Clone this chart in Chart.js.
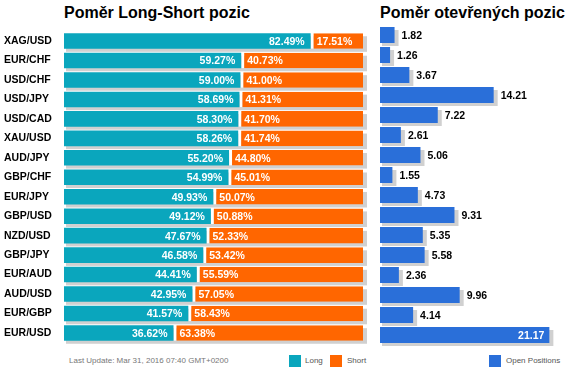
<!DOCTYPE html>
<html>
<head>
<meta charset="utf-8">
<script src="https://cdn.jsdelivr.net/npm/chart.js@4/dist/chart.umd.min.js"></script>
<style>
  body { margin: 0; background: #fff; width: 570px; height: 373px; position: relative; overflow: hidden; font-family: Arial, "Liberation Sans", sans-serif; }
  canvas { position: absolute; }
  .title { position: absolute; top: 5px; font-weight: bold; font-size: 16px; line-height: 16px; color: #000; white-space: nowrap; }
  .foot { position: absolute; font-size: 8px; line-height: 10px; color: #555; white-space: nowrap; }
  .sq { position: absolute; width: 12px; height: 12px; }
</style>
</head>
<body>
<div class="title" style="left:64px">Poměr Long-Short pozic</div>
<div class="title" style="left:380px">Poměr otevřených pozic</div>

<canvas id="ratioChart" width="372" height="324" style="left:0;top:25px"></canvas>
<canvas id="openChart" width="190" height="324" style="left:380px;top:25px"></canvas>

<div class="foot" style="left:69px;top:356px;color:#777">Last Update: Mar 31, 2016 07:40 GMT+0200</div>
<div class="sq" style="left:289px;top:355px;background:#0aa6bd"></div>
<div class="foot" style="left:305px;top:356px">Long</div>
<div class="sq" style="left:330px;top:355px;background:#ff6600"></div>
<div class="foot" style="left:347px;top:356px">Short</div>
<div class="sq" style="left:489px;top:355px;background:#2a6fd9"></div>
<div class="foot" style="left:506px;top:356px">Open Positions</div>

<script>
// menove pary
var pairs = ['XAG/USD', 'EUR/CHF', 'USD/CHF', 'USD/JPY', 'USD/CAD', 'XAU/USD', 'AUD/JPY', 'GBP/CHF',
             'EUR/JPY', 'GBP/USD', 'NZD/USD', 'GBP/JPY', 'EUR/AUD', 'AUD/USD', 'EUR/GBP', 'EUR/USD'];
var longPct  = [82.49, 59.27, 59.00, 58.69, 58.30, 58.26, 55.20, 54.99, 49.93, 49.12, 47.67, 46.58, 44.41, 42.95, 41.57, 36.62];
var shortPct = [17.51, 40.73, 41.00, 41.31, 41.70, 41.74, 44.80, 45.01, 50.07, 50.88, 52.33, 53.42, 55.59, 57.05, 58.43, 63.38];
var openPos  = [1.82, 1.26, 3.67, 14.21, 7.22, 2.61, 5.06, 1.55, 4.73, 9.31, 5.35, 5.58, 2.36, 9.96, 4.14, 21.17];

var TEAL = '#0aa6bd';
var ORANGE = '#ff6600';
var BLUE = '#2a6fd9';
var SHADOW = '#d0d0d0';
var LABEL_FONT = 'bold 10.5px Arial, "Liberation Sans", sans-serif';

// sedy stin za kazdym radkem
var shadowPlugin = {
    id: 'shadow',
    beforeDatasetsDraw: function (chart) {
        var ctx = chart.ctx;
        var first = chart.getDatasetMeta(0).data;
        var last = chart.getDatasetMeta(chart.data.datasets.length - 1).data;
        ctx.save();
        ctx.fillStyle = SHADOW;
        for (var i = 0; i < first.length; i++) {
            var a = first[i], b = last[i];
            var h = a.height;
            ctx.fillRect(a.base + 2, a.y - h / 2 + 3, b.x - a.base + 2, h);
        }
        ctx.restore();
    }
};

var ratioLabels = {
    id: 'ratioLabels',
    afterDatasetsDraw: function (chart) {
        var ctx = chart.ctx;
        var lm = chart.getDatasetMeta(0).data;
        var sm = chart.getDatasetMeta(1).data;
        ctx.save();
        ctx.font = LABEL_FONT;
        ctx.fillStyle = '#fff';
        ctx.textBaseline = 'middle';
        for (var i = 0; i < lm.length; i++) {
            ctx.textAlign = 'right';
            ctx.fillText(longPct[i].toFixed(2) + '%', lm[i].x - 6, lm[i].y + 1);
            ctx.textAlign = 'left';
            ctx.fillText(shortPct[i].toFixed(2) + '%', sm[i].base + 6, sm[i].y + 1);
        }
        ctx.restore();
    }
};

var openLabels = {
    id: 'openLabels',
    afterDatasetsDraw: function (chart) {
        var ctx = chart.ctx;
        var meta = chart.getDatasetMeta(0).data;
        ctx.save();
        ctx.font = LABEL_FONT;
        ctx.textBaseline = 'middle';
        for (var i = 0; i < meta.length; i++) {
            var txt = openPos[i].toFixed(2);
            var w = ctx.measureText(txt).width;
            if (meta[i].x + 7 + w > chart.width) {
                ctx.fillStyle = '#fff';
                ctx.textAlign = 'right';
                ctx.fillText(txt, meta[i].x - 5, meta[i].y + 1);
            } else {
                ctx.fillStyle = '#000';
                ctx.textAlign = 'left';
                ctx.fillText(txt, meta[i].x + 7, meta[i].y + 1);
            }
        }
        ctx.restore();
    }
};

new Chart(document.getElementById('ratioChart').getContext('2d'), {
    type: 'bar',
    data: {
        labels: pairs,
        datasets: [{
            label: 'Long',
            data: longPct,
            backgroundColor: TEAL,
            borderWidth: 0,
            categoryPercentage: 0.8,
            barPercentage: 1
        }, {
            label: 'Short',
            data: shortPct,
            backgroundColor: ORANGE,
            borderColor: '#fff',
            borderWidth: { left: 3, right: 0, top: 0, bottom: 0 },
            borderSkipped: false,
            categoryPercentage: 0.8,
            barPercentage: 1
        }]
    },
    options: {
        indexAxis: 'y',
        responsive: false,
        animation: false,
        devicePixelRatio: 1,
        layout: { padding: { left: 4, right: 9, top: 0, bottom: 4 } },
        plugins: { legend: { display: false }, title: { display: false }, tooltip: { enabled: false } },
        scales: {
            x: { stacked: true, min: 0, max: 100, display: false },
            y: {
                stacked: true,
                grid: { display: false },
                border: { display: false },
                ticks: {
                    crossAlign: 'far',
                    color: '#000',
                    padding: 0,
                    font: { family: 'Arial, "Liberation Sans", sans-serif', size: 10.5, weight: 'bold' }
                },
                afterFit: function (scale) { scale.width = 60; }
            }
        }
    },
    plugins: [shadowPlugin, ratioLabels]
});

new Chart(document.getElementById('openChart').getContext('2d'), {
    type: 'bar',
    data: {
        labels: pairs,
        datasets: [{
            label: 'Open Positions',
            data: openPos,
            backgroundColor: BLUE,
            borderWidth: 0,
            categoryPercentage: 0.8,
            barPercentage: 1
        }]
    },
    options: {
        indexAxis: 'y',
        responsive: false,
        animation: false,
        devicePixelRatio: 1,
        layout: { padding: { left: 0, right: 10, top: 0, bottom: 4 } },
        plugins: { legend: { display: false }, title: { display: false }, tooltip: { enabled: false } },
        scales: {
            x: { min: 0, max: 22.5, display: false },
            y: { display: false }
        }
    },
    plugins: [shadowPlugin, openLabels]
});
</script>
</body>
</html>
